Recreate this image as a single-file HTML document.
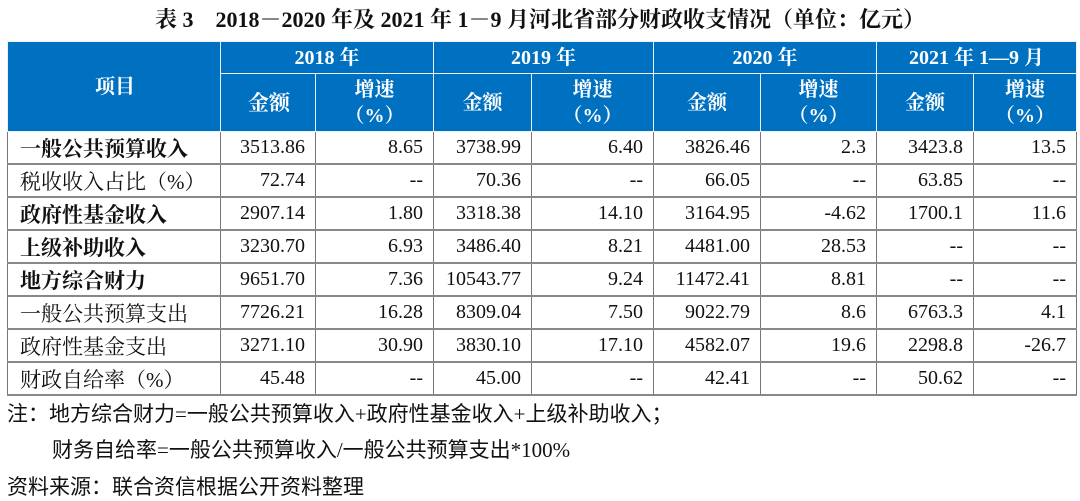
<!DOCTYPE html>
<html><head><meta charset="utf-8"><style>
body{margin:0;width:1080px;height:501px;background:#fff;position:relative;overflow:hidden;font-family:"Liberation Serif","Noto Serif CJK SC",serif;color:#111}
.t{position:absolute;left:0;width:1080px;top:3px;text-align:center;font-size:22px;font-weight:bold;white-space:pre}
table{position:absolute;left:7px;top:41px;border-collapse:collapse;table-layout:fixed;font-size:20px}
td{padding:0 10px;height:31px;border-left:1px solid #777;border-right:1px solid #777;border-bottom:2px solid #888;white-space:nowrap;text-align:right}
td:first-child{text-align:left;padding-left:12px;font-size:21px}
.h td{background:#0070c0;color:#fff;font-weight:bold;border:1px solid #e8f0f8;text-align:center;line-height:26px}
.n{position:absolute;left:7px;font-family:"Liberation Serif","Noto Sans CJK SC",sans-serif;font-size:21px;white-space:nowrap}
</style></head><body>
<div class="t">表 3　2018－2020 年及 2021 年 1－9 月河北省部分财政收支情况（单位：亿元）</div>
<table>
<colgroup><col style="width:213px"><col style="width:95px"><col style="width:118px"><col style="width:98px"><col style="width:122px"><col style="width:107px"><col style="width:116px"><col style="width:97px"><col style="width:103px"></colgroup>
<tr class="h"><td rowspan="2" style="font-size:20px;text-align:center">项目</td><td colspan="2" style="height:30px">2018 年</td><td colspan="2">2019 年</td><td colspan="2">2020 年</td><td colspan="2">2021 年 1—9 月</td></tr>
<tr class="h" style="height:58px"><td>金额</td><td>增速<br>（%）</td><td>金额</td><td>增速<br>（%）</td><td>金额</td><td>增速<br>（%）</td><td>金额</td><td>增速<br>（%）</td></tr>
<tr><td><b>一般公共预算收入</b></td><td>3513.86</td><td>8.65</td><td>3738.99</td><td>6.40</td><td>3826.46</td><td>2.3</td><td>3423.8</td><td>13.5</td></tr>
<tr><td>税收收入占比（%）</td><td>72.74</td><td>--</td><td>70.36</td><td>--</td><td>66.05</td><td>--</td><td>63.85</td><td>--</td></tr>
<tr><td><b>政府性基金收入</b></td><td>2907.14</td><td>1.80</td><td>3318.38</td><td>14.10</td><td>3164.95</td><td>-4.62</td><td>1700.1</td><td>11.6</td></tr>
<tr><td><b>上级补助收入</b></td><td>3230.70</td><td>6.93</td><td>3486.40</td><td>8.21</td><td>4481.00</td><td>28.53</td><td>--</td><td>--</td></tr>
<tr><td><b>地方综合财力</b></td><td>9651.70</td><td>7.36</td><td>10543.77</td><td>9.24</td><td>11472.41</td><td>8.81</td><td>--</td><td>--</td></tr>
<tr><td>一般公共预算支出</td><td>7726.21</td><td>16.28</td><td>8309.04</td><td>7.50</td><td>9022.79</td><td>8.6</td><td>6763.3</td><td>4.1</td></tr>
<tr><td>政府性基金支出</td><td>3271.10</td><td>30.90</td><td>3830.10</td><td>17.10</td><td>4582.07</td><td>19.6</td><td>2298.8</td><td>-26.7</td></tr>
<tr><td>财政自给率（%）</td><td>45.48</td><td>--</td><td>45.00</td><td>--</td><td>42.41</td><td>--</td><td>50.62</td><td>--</td></tr>
</table>
<div class="n" style="top:398px">注：地方综合财力=一般公共预算收入+政府性基金收入+上级补助收入；</div>
<div class="n" style="top:434px;left:52px">财务自给率=一般公共预算收入/一般公共预算支出*100%</div>
<div class="n" style="top:471px">资料来源：联合资信根据公开资料整理</div>
</body></html>
